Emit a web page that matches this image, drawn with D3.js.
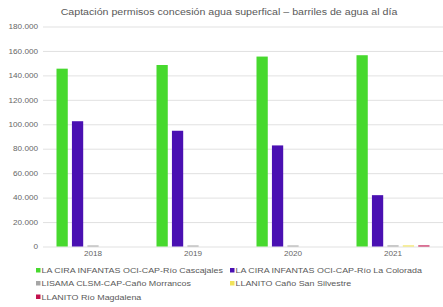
<!DOCTYPE html>
<html><head><meta charset="utf-8">
<script src="https://cdn.jsdelivr.net/npm/d3@7"></script>
<style>body{margin:0;background:#fff}svg{display:block}text{font-family:"Liberation Sans",Arial,sans-serif}</style>
</head><body><svg id="c" width="443" height="307"></svg>
<script>
const title = "Captación permisos concesión agua superfical – barriles de agua al día";
const years = ["2018","2019","2020","2021"];
const seriesNames = [
  "LA CIRA INFANTAS OCI-CAP-Río Cascajales",
  "LA CIRA INFANTAS OCI-CAP-Río La Colorada",
  "LISAMA CLSM-CAP-Caño Morrancos",
  "LLANITO Caño San Silvestre",
  "LLANITO Río Magdalena"
];
const cascajales = [145500, 148500, 155400, 156500];
const colorada   = [102500, 94700, 82700, 42000];
const morrancos  = [800, 800, 800, 900];
const silvestre  = [0, 0, 0, 900];
const magdalena  = [0, 0, 0, 900];
const colors = ["#47d92e", "#4a10b2", "#a6a6a6", "#f2e35a", "#c2124e"];
const yTicks = [0,20000,40000,60000,80000,100000,120000,140000,160000,180000];

const values = [cascajales, colorada, morrancos, silvestre, magdalena];
const svg = d3.select("#c");
const m = {l:43, r:443, t:26.5, b:246.5};
const x0 = d3.scaleBand().domain(years).range([m.l, m.r]).paddingInner(0.27).paddingOuter(0.135);
const x1 = d3.scaleBand().domain(d3.range(seriesNames.length)).range([0, x0.bandwidth()]).paddingInner(0.27);
const y = d3.scaleLinear().domain([0,180000]).range([m.b, m.t]);
const fmt = v => d3.format(",")(v).replace(/,/g, ".");
function stretch(sel, f) {
  sel.each(function() {
    const w = this.getComputedTextLength();
    d3.select(this).attr("textLength", w * f).attr("lengthAdjust", "spacingAndGlyphs");
  });
}

svg.append("text").attr("x", 229).attr("y", 15).attr("text-anchor","middle")
  .attr("font-size", 8.5).attr("fill", "#595959").text(title).call(stretch, 1.25);

const yAxis = svg.append("g").attr("transform", `translate(${m.l},0)`)
  .call(d3.axisLeft(y).tickValues(yTicks).tickFormat(fmt).tickSize(-(m.r-m.l)).tickPadding(5));
yAxis.select(".domain").remove();
yAxis.selectAll("line").attr("stroke", "#d9d9d9").attr("stroke-width", 0.8);
yAxis.selectAll("text").attr("font-size", 6.8).attr("fill", "#666").attr("font-family", '"Liberation Sans",Arial,sans-serif').call(stretch, 1.2);

const g = svg.append("g");
years.forEach((yr, i) => {
  values.forEach((arr, s) => {
    const v = arr[i];
    if (!v) return;
    const h = Math.max(m.b - y(v), 1);
    g.append("rect").attr("x", x0(yr) + x1(s)).attr("width", x1.bandwidth())
      .attr("y", m.b - h).attr("height", h).attr("fill", colors[s]);
  });
});

const xAxis = svg.append("g").attr("transform", `translate(0,${m.b})`)
  .call(d3.axisBottom(x0).tickSize(0).tickPadding(5));
xAxis.select(".domain").remove();
xAxis.selectAll("text").attr("font-size", 6.8).attr("fill", "#666").attr("font-family", '"Liberation Sans",Arial,sans-serif').call(stretch, 1.2);

const legPos = [[36,273],[230,273],[36,286],[230,286],[36,299.5]];
seriesNames.forEach((n, s) => {
  const [lx, ly] = legPos[s];
  svg.append("rect").attr("x", lx).attr("y", ly-5).attr("width", 4.5).attr("height", 4.5).attr("fill", colors[s]);
  svg.append("text").attr("x", lx+5.5).attr("y", ly).attr("font-size", 7.3).attr("fill", "#595959").text(n).call(stretch, 1.22);
});
</script></body></html>
